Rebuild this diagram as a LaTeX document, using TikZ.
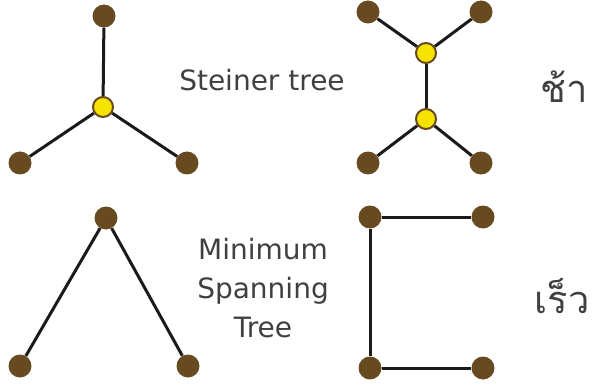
\documentclass[tikz,border=0pt]{standalone}
\usepackage{fontspec}
\setmainfont{DejaVu Sans}
\newfontfamily\thaifont[Script=Thai]{Loma}
\definecolor{termbrown}{RGB}{104,74,32}
\definecolor{steineryellow}{RGB}{246,228,0}
\definecolor{linkblack}{RGB}{26,26,26}
\definecolor{txtgray}{RGB}{64,64,64}

\begin{document}
\begin{tikzpicture}[x=1pt,y=-1pt,
  term/.style={circle,fill=termbrown,inner sep=0pt,minimum size=23pt},
  spoint/.style={circle,fill=steineryellow,draw=termbrown,line width=2pt,inner sep=0pt,minimum size=20pt},
  link/.style={draw=linkblack,line width=3pt},
  txt/.style={text=txtgray,font=\fontsize{28}{39}\selectfont,align=center,inner sep=0pt},
  thai/.style={txt,font=\thaifont\fontsize{38}{44}\selectfont,anchor=base}]
\useasboundingbox (0,0) rectangle (592,385);
\node [term] (st-t) at (104,16) {};
\node [term] (st-l) at (20,163) {};
\node [term] (st-r) at (187,163) {};
\node [spoint] (st-c) at (103,107) {};
\path [link] (st-t) -- (st-c);
\path [link] (st-l) -- (st-c);
\path [link] (st-r) -- (st-c);
\node [term] (ss-tl) at (368,12) {};
\node [term] (ss-tr) at (481,12) {};
\node [term] (ss-bl) at (368,163) {};
\node [term] (ss-br) at (481,163) {};
\node [spoint] (ss-u) at (426,53) {};
\node [spoint] (ss-d) at (426,119) {};
\path [link] (ss-tl) -- (ss-u) -- (ss-tr);
\path [link] (ss-u) -- (ss-d);
\path [link] (ss-bl) -- (ss-d) -- (ss-br);
\node [term] (mt-t) at (106,218) {};
\node [term] (mt-l) at (20,366) {};
\node [term] (mt-r) at (188,366) {};
\path [link] (mt-l) -- (mt-t) -- (mt-r);
\node [term] (ms-tl) at (370,217) {};
\node [term] (ms-tr) at (483,217) {};
\node [term] (ms-bl) at (370,368) {};
\node [term] (ms-br) at (483,368) {};
\path [link] (ms-tr) -- (ms-tl) -- (ms-bl) -- (ms-br);
\node [txt, anchor=base] (steiner) at (262,91) {Steiner tree};
\node [txt] (mst) at (263,288) {Minimum\\Spanning\\Tree};
\node [thai] (slow) at (564,103) {ช้า};
\node [thai] (fast) at (562,313) {เร็ว};
\end{tikzpicture}
\end{document}
